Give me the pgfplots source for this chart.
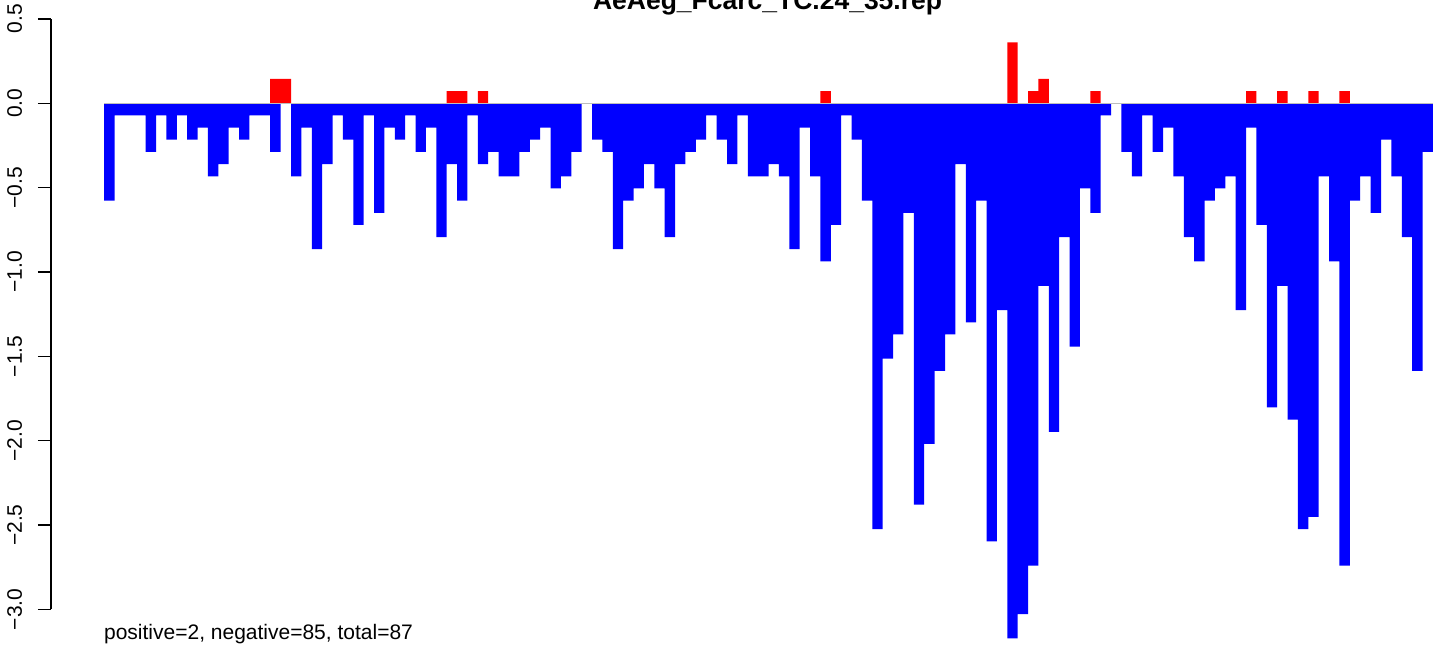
\documentclass[border=0pt]{standalone}
\usepackage{pgfplots}
\pgfplotsset{compat=1.18}
\usepackage{fontspec}
\setmainfont{Liberation Sans}
\definecolor{rgray}{RGB}{190,190,190}
\pgfplotstableread{
x y
0 -0.577
1 -0.072
2 -0.072
3 -0.072
4 -0.288
5 -0.072
6 -0.216
7 -0.072
8 -0.216
9 -0.144
10 -0.433
11 -0.361
12 -0.144
13 -0.216
14 -0.072
15 -0.072
16 -0.288
17 0
18 -0.433
19 -0.144
20 -0.865
21 -0.361
22 -0.072
23 -0.216
24 -0.721
25 -0.072
26 -0.649
27 -0.144
28 -0.216
29 -0.072
30 -0.288
31 -0.144
32 -0.793
33 -0.361
34 -0.577
35 -0.072
36 -0.361
37 -0.288
38 -0.433
39 -0.433
40 -0.288
41 -0.216
42 -0.144
43 -0.505
44 -0.433
45 -0.288
46 0
47 -0.216
48 -0.288
49 -0.865
50 -0.577
51 -0.505
52 -0.361
53 -0.505
54 -0.793
55 -0.361
56 -0.288
57 -0.216
58 -0.072
59 -0.216
60 -0.361
61 -0.072
62 -0.433
63 -0.433
64 -0.361
65 -0.433
66 -0.865
67 -0.144
68 -0.433
69 -0.937
70 -0.721
71 -0.072
72 -0.216
73 -0.577
74 -2.524
75 -1.514
76 -1.370
77 -0.649
78 -2.379
79 -2.019
80 -1.586
81 -1.370
82 -0.361
83 -1.298
84 -0.577
85 -2.596
86 -1.226
87 -3.172
88 -3.028
89 -2.740
90 -1.082
91 -1.947
92 -0.793
93 -1.442
94 -0.505
95 -0.649
96 -0.072
97 0
98 -0.288
99 -0.433
100 -0.072
101 -0.288
102 -0.144
103 -0.433
104 -0.793
105 -0.937
106 -0.577
107 -0.505
108 -0.433
109 -1.226
110 -0.144
111 -0.721
112 -1.803
113 -1.082
114 -1.875
115 -2.524
116 -2.451
117 -0.433
118 -0.937
119 -2.740
120 -0.577
121 -0.433
122 -0.649
123 -0.216
124 -0.433
125 -0.793
126 -1.586
127 -0.288
128 -0.288
}\negdata
\pgfplotstableread{
x y
16.5 0.144
17.5 0.144
33.5 0.072
34.5 0.072
36.5 0.072
69.5 0.072
87.5 0.361
89.5 0.072
90.5 0.144
95.5 0.072
110.5 0.072
113.5 0.072
116.5 0.072
119.5 0.072
}\posdata
\begin{document}
\begin{tikzpicture}[x=1pt,y=1pt]
\begin{axis}[
  at={(51pt,0pt)}, anchor=south west,
  scale only axis, width=1393pt, height=655pt,
  xmin=-5.12, xmax=129.07, ymin=-3.270, ymax=0.612,
  clip=false,
  axis line style={draw=none},
  xtick=\empty,
  ytick={-3,-2.5,-2,-1.5,-1,-0.5,0,0.5},
  yticklabels={−3.0,−2.5,−2.0,−1.5,−1.0,−0.5,0.0,0.5},
  ytick pos=left,
  tick align=outside,
  major tick length=13pt,
  y tick style={black, line width=1.5pt},
  yticklabel shift=16pt,
  yticklabel style={rotate=90, anchor=base, font=\fontsize{21}{25}\selectfont},
  title={AeAeg\_Fcarc\_TC.24\_35.rep},
  title style={at={(axis description cs:0.5144,0.9756)}, anchor=base, inner sep=0pt, font=\fontsize{26.5}{31}\selectfont\bfseries},
]
\addplot[const plot mark left, fill=blue, draw=none] table[x=x,y=y] {\negdata} \closedcycle;
\addplot[ybar, bar width=1, fill=red, draw=none] table[x=x,y=y] {\posdata};
\addplot[rgray, line width=1.5pt] coordinates {(0,0) (128,0)};
\draw[black, line width=1.5pt] (axis cs:-5.12,-3) -- (axis cs:-5.12,0.5);
\node[anchor=base west, inner sep=0pt, font=\fontsize{21}{25}\selectfont] at (axis description cs:0.0380,0.024) {positive=2, negative=85, total=87};
\end{axis}
\pgfresetboundingbox
\path[use as bounding box] (0,0) rectangle (1444,655);
\end{tikzpicture}
\end{document}
